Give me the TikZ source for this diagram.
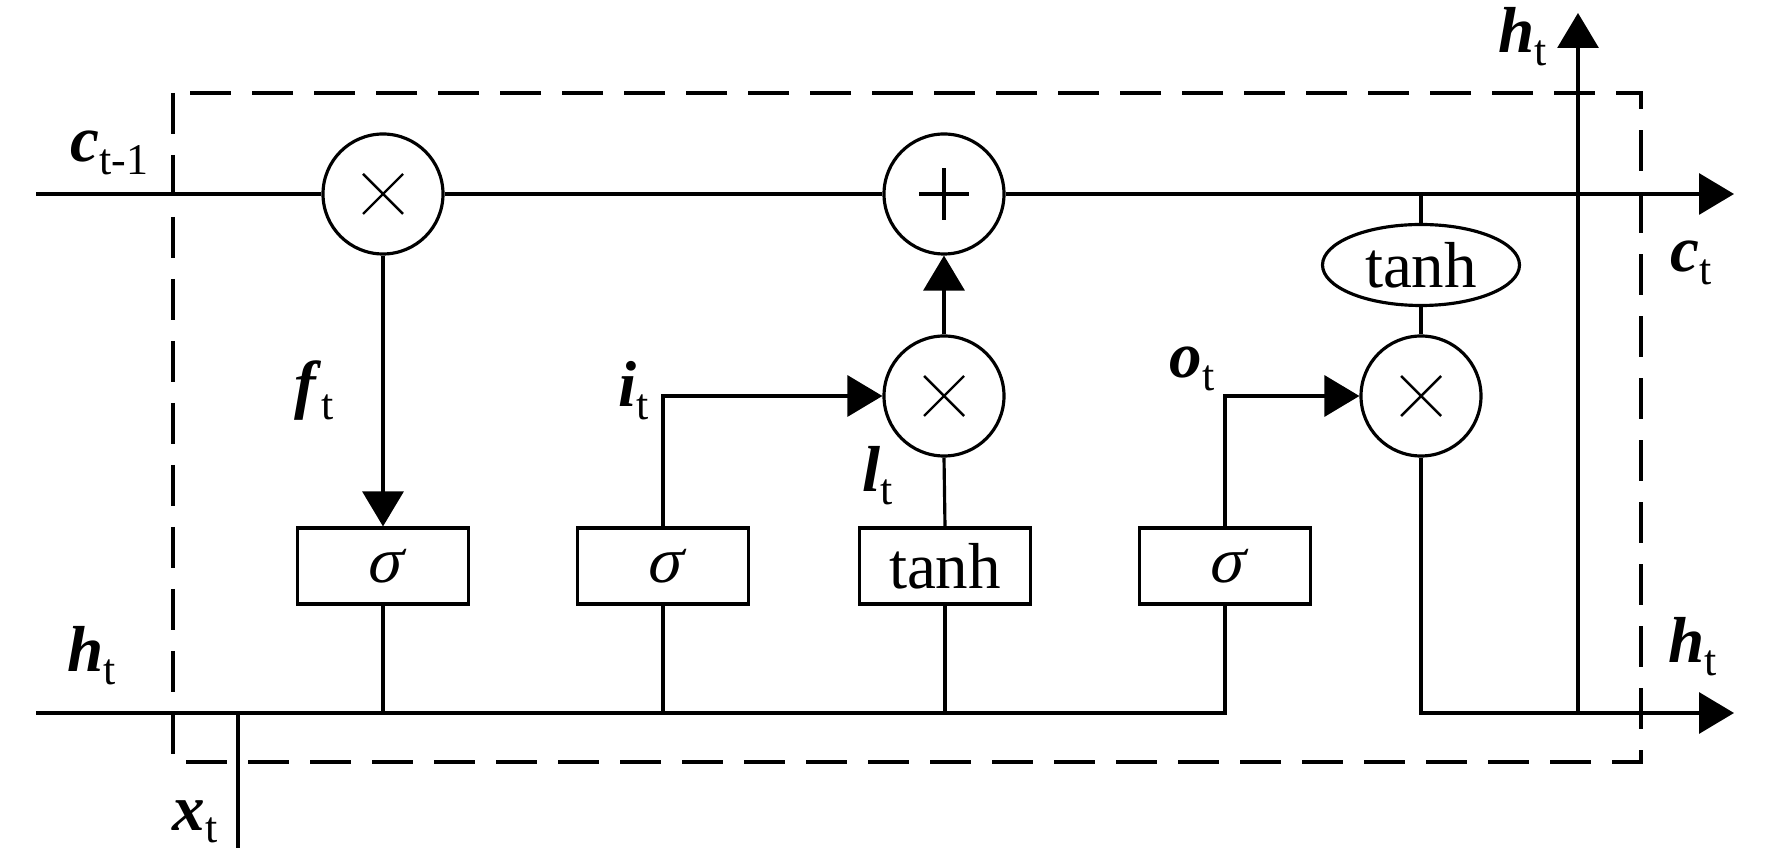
\documentclass[tikz,border=0pt]{standalone}
\usepackage{fontspec}
\setmainfont{Liberation Serif}
\newfontfamily\sigfont[FakeSlant=0.22]{Liberation Serif}
\usetikzlibrary{positioning,shapes,arrows.meta}
\newcommand{\vsub}[2]{\textbf{\textit{#1}}\raisebox{-0.13cm}{\fontsize{12.5}{13}\selectfont #2}}
\newcommand{\sig}{{\sigfont σ}}

\begin{document}
\begin{tikzpicture}[line width=0.9pt,font=\fontsize{18.5}{22}\selectfont,
  op/.style={draw,circle,minimum size=1.2cm,inner sep=0pt,fill=white},
  mul/.style={op,path picture={
    \draw[line width=0.7pt] ([shift={(-0.2,-0.2)}]path picture bounding box.center) -- ++(0.4,0.4)
      ([shift={(-0.2,0.2)}]path picture bounding box.center) -- ++(0.4,-0.4);}},
  add/.style={op,path picture={
    \draw[line width=1pt] ([shift={(-0.25,0)}]path picture bounding box.center) -- ++(0.5,0)
      ([shift={(0,-0.26)}]path picture bounding box.center) -- ++(0,0.52);}},
  gate/.style={draw,rectangle,minimum width=1.71cm,minimum height=0.76cm,inner sep=0pt},
  squash/.style={draw,ellipse,minimum width=1.97cm,minimum height=0.81cm,inner sep=0pt},
  lab/.style={anchor=base west,inner sep=0pt},
  arr/.style={-{Triangle[length=3.5mm,width=4.1mm]}}]
  \useasboundingbox (0,0) rectangle (17.72,-8.64);
  \draw[dash pattern=on 4.1mm off 2.1mm] (1.73,-0.93) rectangle (16.41,-7.62);

  \coordinate (cin) at (0.36,-1.94);
  \coordinate (cout) at (17.34,-1.94);
  \coordinate (hin) at (0.36,-7.13);
  \coordinate (hout) at (17.34,-7.13);
  \coordinate (htop) at (15.78,-0.13);
  \coordinate (xin) at (2.38,-8.48);

  \node[mul] (fmul) at (3.83,-1.94) {};
  \node[add] (cadd) at (9.44,-1.94) {};
  \node[mul] (imul) at (9.44,-3.96) {};
  \node[mul] (omul) at (14.21,-3.96) {};
  \node[squash] (ctanh) at (14.21,-2.65) {tanh};

  \node[gate] (fgate) at (3.83,-5.66) {\sig};
  \node[gate] (igate) at (6.63,-5.66) {\sig};
  \node[gate] (cgate) at (9.45,-5.66) {tanh};
  \node[gate] (ogate) at (12.25,-5.66) {\sig};

  \draw (cin) -- (fmul.west);
  \draw (fmul.east) -- (cadd.west);
  \draw[arr] (cadd.east) -- (cout);
  \draw (ctanh.north) -- (ctanh.north |- cadd.east);
  \draw (ctanh.south) -- (omul.north);
  \draw[arr] (fmul.south) -- (fgate.north);
  \draw[arr] (imul.north) -- (cadd.south);
  \draw (cgate.north) -- (imul.south);
  \draw[arr] (igate.north) |- (imul.west);
  \draw[arr] (ogate.north) |- (omul.west);
  \draw (hin) -- (ogate.south |- hin) -- (ogate.south);
  \draw (fgate.south) -- (fgate.south |- hin);
  \draw (igate.south) -- (igate.south |- hin);
  \draw (cgate.south) -- (cgate.south |- hin);
  \draw (xin) -- (xin |- hin);
  \draw[arr] (omul.south) |- (hout);
  \draw[arr] (htop |- hout) -- (htop);

  \node[lab] (lcprev) at (0.69,-1.62) {\vsub{c}{t-1}};
  \node[lab] (lf) at (2.93,-4.07) {\vsub{f}{t}};
  \node[lab] (li) at (6.17,-4.07) {\vsub{i}{t}};
  \node[lab] (ll) at (8.61,-4.92) {\vsub{l}{t}};
  \node[lab] (lo) at (11.68,-3.78) {\vsub{o}{t}};
  \node[lab] (lct) at (16.69,-2.72) {\vsub{c}{t}};
  \node[lab] (lhtop) at (14.97,-0.53) {\vsub{h}{t}};
  \node[lab] (lhin) at (0.66,-6.72) {\vsub{h}{t}};
  \node[lab] (lhout) at (16.67,-6.63) {\vsub{h}{t}};
  \node[lab] (lx) at (1.71,-8.30) {\vsub{x}{t}};
\end{tikzpicture}
\end{document}
